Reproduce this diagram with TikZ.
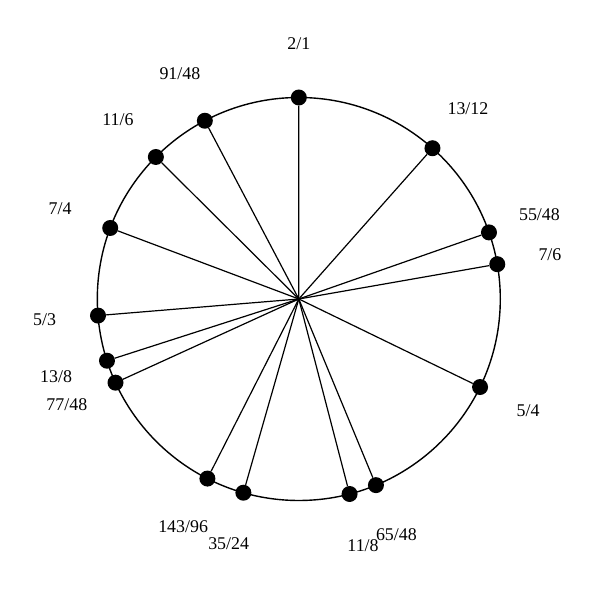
\documentclass[tikz,border=0pt]{standalone}
\usepackage{fontspec}
\setmainfont{Liberation Serif}
\usetikzlibrary{calc}
\begin{document}
\begin{tikzpicture}[x=1pt,y=1pt,
  dot/.style={circle,fill=black,inner sep=0pt,minimum size=16pt},
  lbl/.style={font=\fontsize{17.9}{20}\selectfont,inner sep=0pt},
  spoke/.style={line width=1.2pt},
  rim/.style={line width=1.4pt}]
\useasboundingbox (0,0) rectangle (600,600);
\coordinate (c) at (298.8,301);
\draw[rim] (c) circle (201.5);
\foreach \p/\q [count=\i] in {2/1,13/12,55/48,7/6,5/4,65/48,11/8,35/24,143/96,77/48,13/8,5/3,7/4,11/6,91/48} {
  \pgfmathsetmacro\ang{90-360*ln(\p/\q)/ln(2)}
  \node[dot] (d\i) at ($(c)+(\ang:201.5)$) {};
  \draw[spoke] (c) -- (d\i);
  \node[lbl] (l\i) at ($(c)+(\ang:255)$) {\p/\q};
}
\end{tikzpicture}
\end{document}
